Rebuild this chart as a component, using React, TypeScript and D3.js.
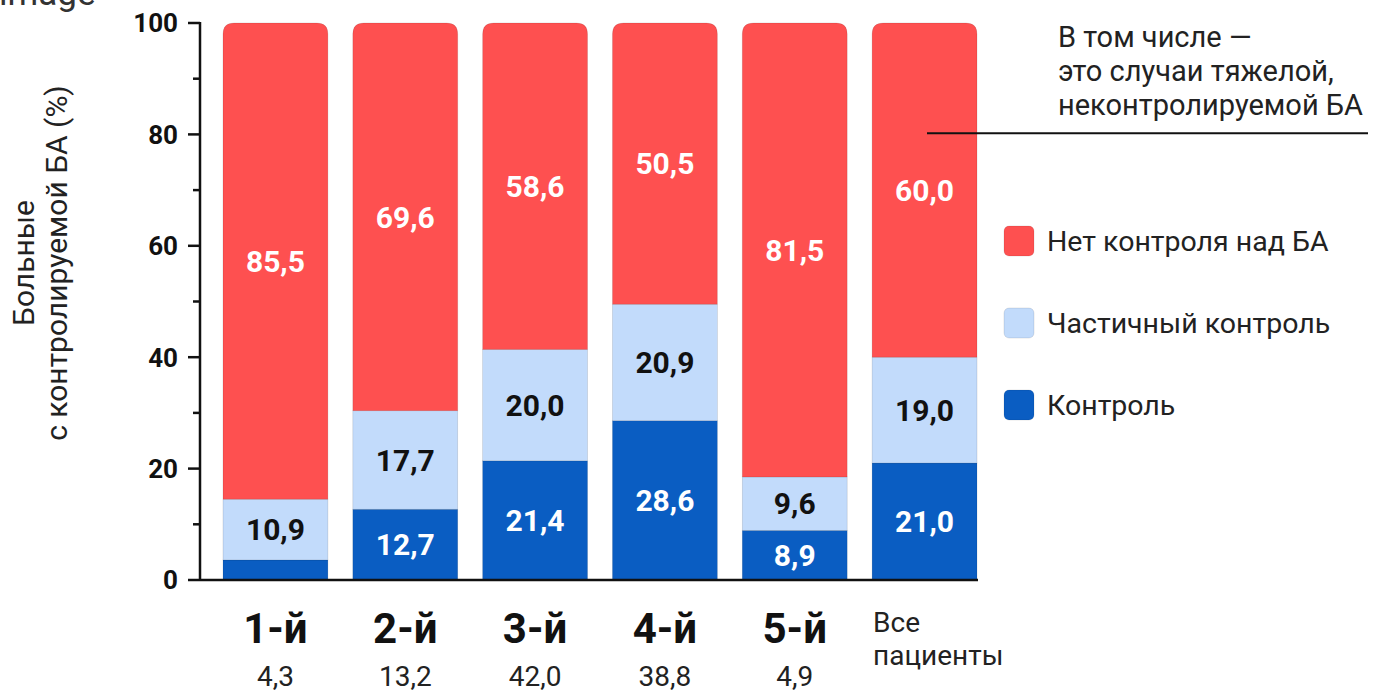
import React from 'react';
import * as d3 from 'd3';

const categories = ['1-й', '2-й', '3-й', '4-й', '5-й', 'Все пациенты'];
const groupShares = ['4,3', '13,2', '42,0', '38,8', '4,9', ''];
const controlValues = [3.6, 12.7, 21.4, 28.6, 8.9, 21.0];
const partialValues = [10.9, 17.7, 20.0, 20.9, 9.6, 19.0];
const noControlValues = [85.5, 69.6, 58.6, 50.5, 81.5, 60.0];
const legendLabels = ['Нет контроля над БА', 'Частичный контроль', 'Контроль'];
const noteLines = ['В том числе —', 'это случаи тяжелой,', 'неконтролируемой БА'];
const yTitle = ['Больные', 'с контролируемой БА (%)'];

const WIDTH = 1388;
const HEIGHT = 693;
const FONT = 'Roboto, "Noto Sans", sans-serif';

const RED = '#fe5050';
const LIGHT = '#c2dbfb';
const BLUE = '#0a5dc2';

const fmt = (v: number) => v.toFixed(1).replace('.', ',');

// rect with only the top corners rounded
const topRounded = (x: number, y: number, w: number, h: number, r: number) =>
  `M${x},${y + h}V${y + r}Q${x},${y} ${x + r},${y}H${x + w - r}Q${x + w},${y} ${x + w},${y + r}V${y + h}Z`;

const App: React.FC = () => {
  const x = d3.scaleBand<string>()
    .domain(categories)
    .range([223, 977])
    .paddingInner(0.192)
    .paddingOuter(0);

  const y = d3.scaleLinear().domain([0, 100]).range([580, 23]);

  const axisX = 200;
  const majorTicks = d3.range(0, 101, 20);
  const minorTicks = d3.range(10, 100, 20);

  const stack = categories.map((c, i) => {
    const segs = [
      { key: 'control', v: controlValues[i], fill: BLUE, text: '#fff' },
      { key: 'partial', v: partialValues[i], fill: LIGHT, text: '#111' },
      { key: 'none', v: noControlValues[i], fill: RED, text: '#fff' },
    ];
    let acc = 0;
    return segs.map(s => {
      const y0 = acc;
      acc += s.v;
      return { ...s, y0, y1: acc, cat: c };
    });
  });

  const legendColors = [RED, LIGHT, BLUE];

  return (
    <svg
      width={WIDTH}
      height={HEIGHT}
      style={{ position: 'absolute', left: 0, top: 0, background: '#fff' }}
      fontFamily={FONT}
    >
      <text x={-1} y={5} fontSize={35} fill="#333">image</text>

      {/* y title */}
      {yTitle.map((t, i) => (
        <text
          key={t}
          transform={`translate(${34 + i * 33},263) rotate(-90)`}
          textAnchor="middle"
          fontSize={30}
          fill="#222"
        >{t}</text>
      ))}

      {/* bars */}
      {stack.map((segs, i) => {
        const bx = x(categories[i]) as number;
        const bw = x.bandwidth();
        return (
          <g key={categories[i]}>
            {segs.map((s, j) => {
              const top = y(s.y1);
              const h = y(s.y0) - y(s.y1);
              const isTop = j === segs.length - 1;
              return isTop ? (
                <path key={s.key} d={topRounded(bx, top, bw, h, 11)} fill={s.fill}
                  stroke="rgba(0,0,0,0.15)" strokeWidth={0.7} />
              ) : (
                <rect key={s.key} x={bx} y={top} width={bw} height={h} fill={s.fill}
                  stroke="rgba(0,0,0,0.15)" strokeWidth={0.7} />
              );
            })}
            {segs.filter(s => s.v >= 5).map(s => (
              <text
                key={s.key + 'l'}
                x={bx + bw / 2}
                y={y((s.y0 + s.y1) / 2)}
                dy="0.36em"
                textAnchor="middle"
                fontSize={30}
                fontWeight={700}
                fill={s.text}
              >{fmt(s.v)}</text>
            ))}
          </g>
        );
      })}

      {/* y axis */}
      <line x1={axisX} x2={axisX} y1={y(100) - 1} y2={y(0)} stroke="#111" strokeWidth={2.5} />
      {majorTicks.map(t => (
        <g key={t}>
          <line x1={axisX - 12} x2={axisX} y1={y(t)} y2={y(t)} stroke="#111" strokeWidth={2.5} />
          <text x={axisX - 22} y={y(t)} dy="0.36em" textAnchor="end" fontSize={26} fontWeight={700} fill="#111">{t}</text>
        </g>
      ))}
      {minorTicks.map(t => (
        <line key={t} x1={axisX - 7} x2={axisX} y1={y(t)} y2={y(t)} stroke="#111" strokeWidth={2.5} />
      ))}

      {/* x axis */}
      <line x1={axisX} x2={978} y1={y(0)} y2={y(0)} stroke="#111" strokeWidth={2.5} />

      {/* category labels */}
      {categories.slice(0, 5).map((c, i) => {
        const cx = (x(c) as number) + x.bandwidth() / 2;
        return (
          <g key={c}>
            <text x={cx} y={643} textAnchor="middle" fontSize={42} fontWeight={700} fill="#111">{c}</text>
            <text x={cx} y={686} textAnchor="middle" fontSize={28} fill="#222">{groupShares[i]}</text>
          </g>
        );
      })}
      {categories[5].split(' ').map((w, i) => (
        <text key={w} x={(x(categories[5]) as number) + 1} y={632 + i * 33} fontSize={28} fill="#222">{w}</text>
      ))}

      {/* annotation */}
      {noteLines.map((t, i) => (
        <text key={t} x={1058} y={47 + i * 34} fontSize={29} fill="#222">{t}</text>
      ))}
      <line x1={927} x2={1368} y1={y(80.2)} y2={y(80.2)} stroke="#111" strokeWidth={2} />

      {/* legend */}
      {legendLabels.map((l, i) => (
        <g key={l} transform={`translate(1004,${226 + i * 82})`}>
          <rect width={30} height={30} rx={5} fill={legendColors[i]} stroke="rgba(0,0,0,0.12)" strokeWidth={0.8} />
          <text x={43} y={15} dy="0.36em" fontSize={28.5} fill="#222">{l}</text>
        </g>
      ))}
    </svg>
  );
};

export default App;
